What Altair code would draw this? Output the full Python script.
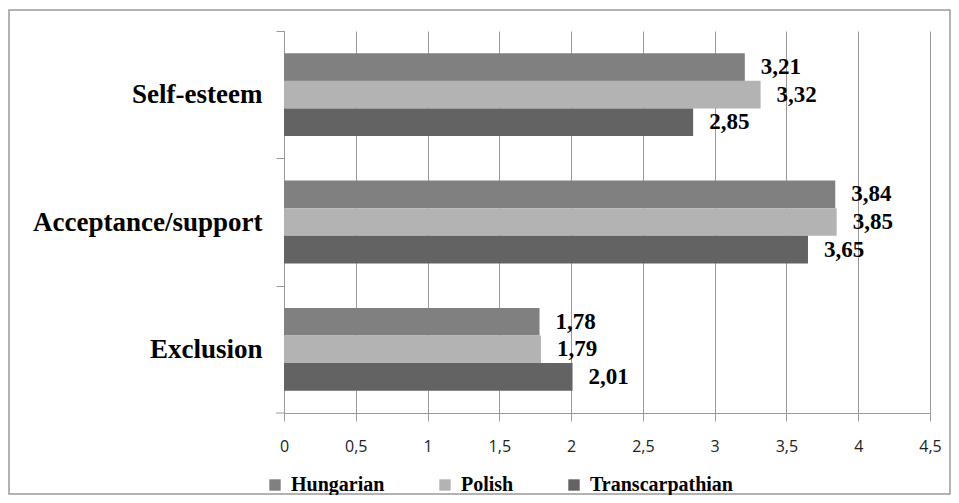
import altair as alt
import pandas as pd

categories = ["Self-esteem", "Acceptance/support", "Exclusion"]
series = ["Hungarian", "Polish", "Transcarpathian"]
hungarian = [3.21, 3.84, 1.78]
polish = [3.32, 3.85, 1.79]
transcarpathian = [2.85, 3.65, 2.01]
x_ticks = [0, 0.5, 1, 1.5, 2, 2.5, 3, 3.5, 4, 4.5]
colors = ["#808080", "#b3b3b3", "#636363"]

rows = []
for s, vals in zip(series, [hungarian, polish, transcarpathian]):
    for c, v in zip(categories, vals):
        rows.append({"category": c, "series": s, "value": v,
                     "label": f"{v:.2f}".replace(".", ",")})
df = pd.DataFrame(rows)

W, H = 646, 382
PAD_L, PAD_T, PAD_R, PAD_B = 276, 23, 21, 82
STEP = H / 3

y_enc = alt.Y("category:N", sort=categories, title=None,
              scale=alt.Scale(paddingInner=0.35, paddingOuter=0.175),
              axis=alt.Axis(grid=False, domainColor="#999999",
                            tickColor="#999999", tickSize=8, tickWidth=1,
                            tickOffset=-STEP / 2, labelOffset=STEP / 2,
                            labelFont="Liberation Serif", labelFontWeight="bold",
                            labelFontSize=27, labelColor="#000000", labelPadding=14,
                            labelLimit=400))
yoff = alt.YOffset("series:N", sort=series, scale=alt.Scale(paddingInner=0, paddingOuter=0))
x_enc = alt.X("value:Q", title=None,
              scale=alt.Scale(domain=[0, 4.5], nice=False),
              axis=alt.Axis(values=x_ticks, grid=True, gridColor="#999999", gridWidth=1,
                            domainColor="#999999", tickColor="#999999", tickSize=8,
                            labelExpr="replace(format(datum.value, '~g'), '.', ',')",
                            labelFont="Open Sans", labelFontSize=16, labelColor="#222222",
                            labelPadding=17, labelFlush=False))

bars = alt.Chart(df).mark_bar(size=27.6).encode(
    y=y_enc, yOffset=yoff, x=x_enc,
    color=alt.Color("series:N", sort=series, title=None,
                    scale=alt.Scale(domain=series, range=colors),
                    legend=alt.Legend(orient="none", legendX=-19, legendY=444,
                                      direction="horizontal", symbolType="square",
                                      symbolSize=130, symbolStrokeWidth=0,
                                      labelFont="Liberation Serif", labelFontWeight="bold",
                                      labelFontSize=20, labelColor="#000000",
                                      labelOffset=6, columnPadding=50)),
)

texts = alt.Chart(df).mark_text(align="left", baseline="middle", dx=16,
                                font="Liberation Serif", fontWeight="bold",
                                fontSize=23, color="#000000").encode(
    y=alt.Y("category:N", sort=categories), yOffset=yoff,
    x=alt.X("value:Q"), text="label:N",
)

frame = pd.DataFrame({"k": [0]})
border = alt.Chart(frame).mark_rect(
    fill=None, stroke="#9a9a9a", strokeWidth=1.5).encode(
    x=alt.value(-PAD_L + 1), x2=alt.value(W + PAD_R - 1),
    y=alt.value(-PAD_T + 2), y2=alt.value(H + PAD_B - 1),
)
bottom_tick = alt.Chart(frame).mark_rule(color="#999999", strokeWidth=1).encode(
    x=alt.value(-8), x2=alt.value(0), y=alt.value(H),
)

chart = alt.layer(border, bars, texts, bottom_tick).properties(
    width=W, height=H,
    autosize=alt.AutoSizeParams(type="none"),
    padding={"left": PAD_L, "top": PAD_T, "right": PAD_R, "bottom": PAD_B},
    background="#ffffff",
).configure_view(stroke=None)

chart.save("out.html", embed_options={"renderer": "svg", "actions": False})
